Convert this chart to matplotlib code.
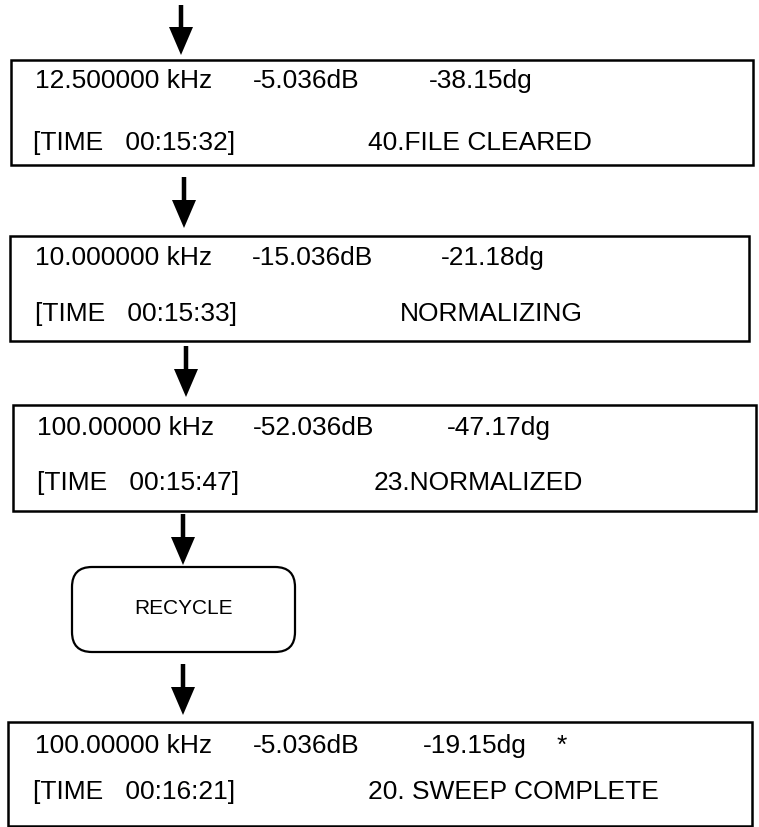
import matplotlib.pyplot as plt
from matplotlib.patches import Rectangle, FancyBboxPatch, FancyArrow

plt.rcParams['font.family'] = ['Liberation Sans', 'DejaVu Sans']

# display readings shown in each step
freqs = ['12.500000 kHz', '10.000000 kHz', '100.00000 kHz', '100.00000 kHz']
levels = ['-5.036dB', '-15.036dB', '-52.036dB', '-5.036dB']
phases = ['-38.15dg', '-21.18dg', '-47.17dg', '-19.15dg']
times = ['00:15:32', '00:15:33', '00:15:47', '00:16:21']
statuses = ['40.FILE CLEARED', 'NORMALIZING', '23.NORMALIZED', '20. SWEEP COMPLETE']
markers = ['', '', '', '*']
step_label = 'RECYCLE'

# layout in pixels (left, top, right, bottom) and text columns
boxes = [(11, 61, 753, 166), (10, 237, 749, 342), (13, 406, 756, 512), (8, 723, 752, 827)]
cols1 = [(35, 253, 429), (35, 252, 441), (37, 253, 447), (35, 253, 423)]
cols2 = [(33, 368), (35, 400), (37, 374), (33, 368)]
base1 = [88, 265, 435, 753]
base2 = [150, 321, 490, 799]
arrows = [(181, 6, 56), (184, 178, 229), (186, 347, 398), (183, 515, 566), (183, 665, 716)]

fig = plt.figure(figsize=(7.59, 8.28), dpi=100)
ax = fig.add_axes([0, 0, 1, 1])
ax.set_xlim(0, 759)
ax.set_ylim(828, 0)
ax.axis('off')

fs = 19
for i in range(len(freqs)):
    l, t, r, b = boxes[i]
    ax.add_patch(Rectangle((l, t), r - l, b - t, fill=False, ec='black', lw=1.8))
    x1, x2, x3 = cols1[i]
    ax.text(x1, base1[i], freqs[i], fontsize=fs, va='baseline')
    ax.text(x2, base1[i], levels[i], fontsize=fs, va='baseline')
    ax.text(x3, base1[i], phases[i], fontsize=fs, va='baseline')
    if markers[i]:
        ax.text(557, base1[i], markers[i], fontsize=fs, va='baseline')
    ax.text(cols2[i][0], base2[i], '[TIME   ' + times[i] + ']', fontsize=fs, va='baseline')
    ax.text(cols2[i][1], base2[i], statuses[i], fontsize=fs, va='baseline')

# rounded step box
ax.add_patch(FancyBboxPatch((72, 568), 223, 85, boxstyle='round,pad=0,rounding_size=20',
                            fill=False, ec='black', lw=1.6))
ax.text(183.5, 609, step_label, fontsize=15, ha='center', va='center')

for x, y0, y1 in arrows:
    ax.add_patch(FancyArrow(x, y0, 0, y1 - y0, width=4.5, head_width=24, head_length=28,
                            length_includes_head=True, color='black', lw=0))

fig.savefig('out.png', dpi=100)
